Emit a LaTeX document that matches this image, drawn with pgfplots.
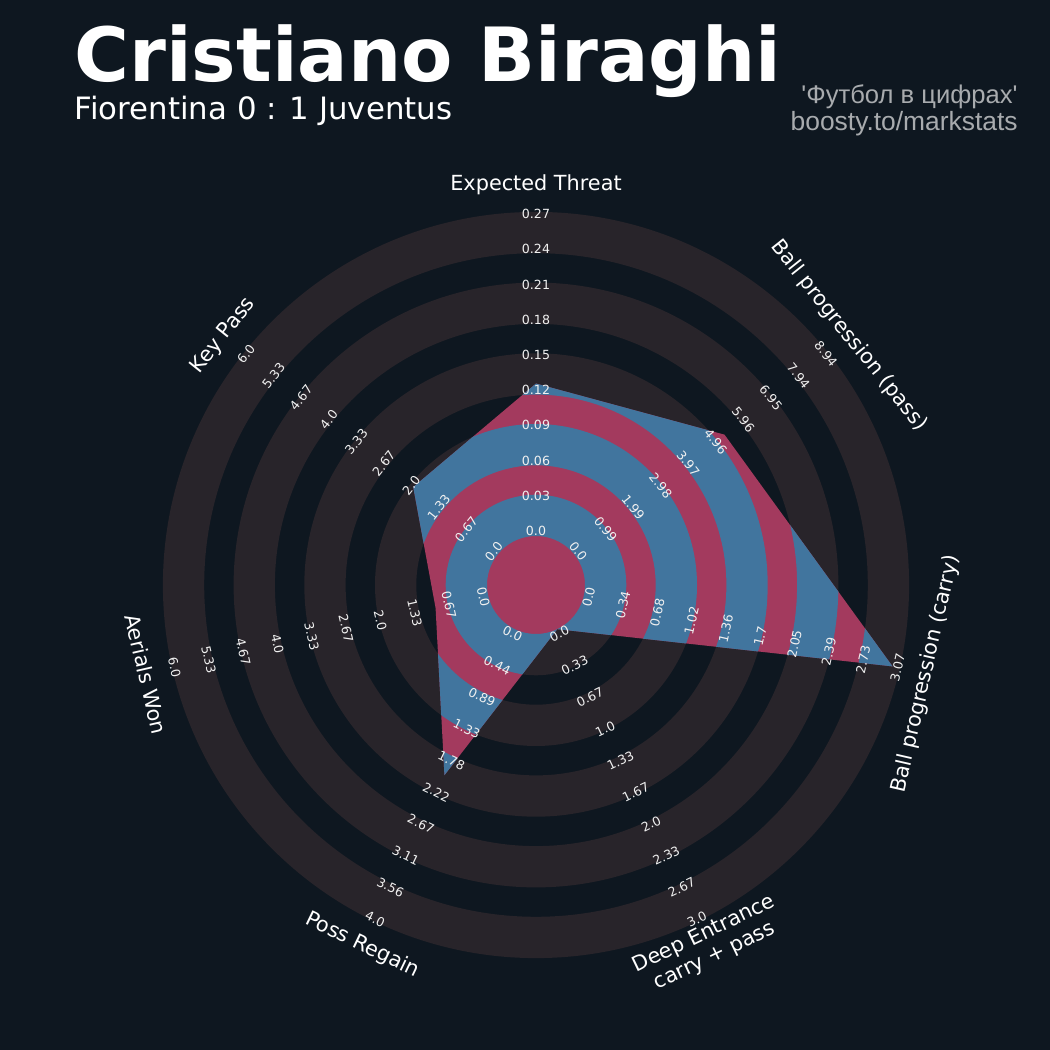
\documentclass[border=0pt]{standalone}
\usepackage{pgfplots}
\pgfplotsset{compat=1.18}
\usepackage{pgfplotstable}
\usepackage{fontspec}
\setmainfont{DejaVu Sans}
\newfontfamily\robfont{Liberation Sans}
\definecolor{bgc}{HTML}{0E1720}
\definecolor{ringc}{HTML}{28242A}
\definecolor{bluec}{HTML}{41759E}
\definecolor{magc}{HTML}{A33A5E}
\definecolor{graytxt}{HTML}{A8ABAE}

% angle (deg), value, range max (range min = 0)
\pgfplotstableread{
angle value max
90 0.127 0.27
38.5714 5.3 8.94
-12.8571 3.0 3.07
-64.2857 0.0 3.0
-115.7143 2.0 4.0
-167.1429 1.0 6.0
141.4286 2.0 6.0
}\radar

\newcommand{\ringpath}{(axis cs:536,465) circle[radius=24.5pt] circle[radius=45.15pt] circle[radius=59.85pt] circle[radius=80.5pt] circle[radius=95.2pt] circle[radius=115.85pt] circle[radius=130.55pt] circle[radius=151.2pt] circle[radius=165.9pt] circle[radius=186.55pt]}

\begin{document}
\begin{tikzpicture}
\begin{axis}[name=ax, x=0.5pt, y=0.5pt, xmin=0, xmax=1050, ymin=0, ymax=1050, hide axis]
\fill[bgc] (axis cs:0,0) rectangle (axis cs:1050,1050);
\fill[ringc, even odd rule] \ringpath;
\addplot[draw=none, fill=magc, path picture={\fill[bluec, even odd rule, path picture={}] \ringpath;}]
  table[x expr={536+(49+\thisrow{value}/\thisrow{max}*324.1)*cos(\thisrow{angle})},
        y expr={465+(49+\thisrow{value}/\thisrow{max}*324.1)*sin(\thisrow{angle})}] {\radar} -- cycle;
\end{axis}
\begin{scope}[shift={(ax.north west)}, x=0.5pt, y=-0.5pt]
\node[anchor=base west, text=white, inner sep=0pt, font=\fontsize{37.4}{40}\selectfont\bfseries] at (74,82) {Cristiano Biraghi};
\node[anchor=base west, text=white, inner sep=0pt, font=\fontsize{15.4}{18}\selectfont] at (74.5,120) {Fiorentina 0 : 1 Juventus};
\node[anchor=base east, text=graytxt, inner sep=0pt, font=\robfont\fontsize{12.8}{15}\selectfont] at (1018,104) {'Футбол в цифрах'};
\node[anchor=base east, text=graytxt, inner sep=0pt, font=\robfont\fontsize{13.2}{15}\selectfont] at (1018,131) {boosty.to/markstats};
% parameter names
\foreach \a/\rot/\txt in {90/0/{Expected Threat}, 38.5714/-51.4286/{Ball progression (pass)}, -12.8571/77.1429/{Ball progression (carry)}, -64.2857/25.7143/{Deep Entrance\\carry + pass}, -115.7143/-25.7143/{Poss Regain}, -167.1429/-77.1429/{Aerials Won}, 141.4286/51.4286/{Key Pass}}
  \node[text=white, inner sep=0pt, align=center, font=\fontsize{10.4}{12.2}\selectfont, rotate=\rot] at ({536+400*cos(\a)},{585-400*sin(\a)}) {\txt};
% range labels
\foreach \a/\rot/\labs in {
  90/0/{0.0,0.03,0.06,0.09,0.12,0.15,0.18,0.21,0.24,0.27},
  38.5714/-51.4286/{0.0,0.99,1.99,2.98,3.97,4.96,5.96,6.95,7.94,8.94},
  -12.8571/77.1429/{0.0,0.34,0.68,1.02,1.36,1.7,2.05,2.39,2.73,3.07},
  -64.2857/25.7143/{0.0,0.33,0.67,1.0,1.33,1.67,2.0,2.33,2.67,3.0},
  -115.7143/-25.7143/{0.0,0.44,0.89,1.33,1.78,2.22,2.67,3.11,3.56,4.0},
  -167.1429/-77.1429/{0.0,0.67,1.33,2.0,2.67,3.33,4.0,4.67,5.33,6.0},
  141.4286/51.4286/{0.0,0.67,1.33,2.0,2.67,3.33,4.0,4.67,5.33,6.0}}
{
  \foreach \l [count=\k from 0] in \labs
    \node[text=white!94!black, inner sep=0pt, font=\fontsize{6.3}{7}\selectfont, rotate=\rot] at ({536+(54+35.2*\k)*cos(\a)},{585-(54+35.2*\k)*sin(\a)}) {\l};
}
\end{scope}
\end{tikzpicture}
\end{document}
